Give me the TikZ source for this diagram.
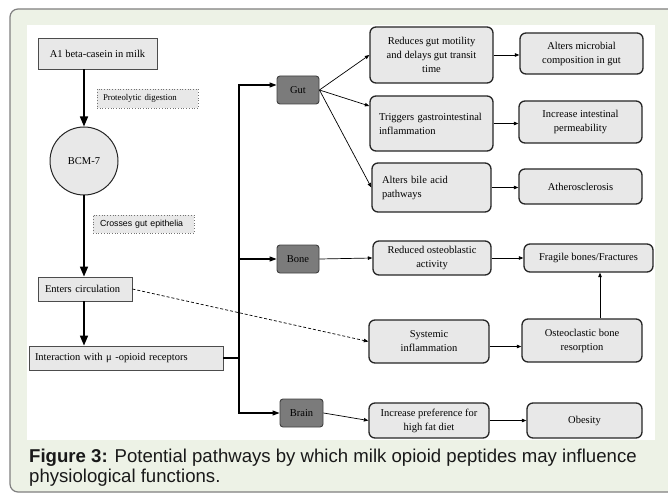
\documentclass[tikz,border=0pt]{standalone}
\usepackage{fontspec}
\setmainfont{Liberation Serif}
\setsansfont{Liberation Sans}
\usetikzlibrary{arrows.meta,positioning}
\definecolor{framebg}{HTML}{EDF2E6}
\definecolor{boxfill}{HTML}{E8E8E8}
\definecolor{hubfill}{HTML}{7B7B7B}

\begin{document}
\begin{tikzpicture}[x=1pt,y=-1pt,
    every node/.style={font=\fontsize{10.5}{14}\selectfont,inner sep=2pt},
    plainbox/.style={draw=black!70,fill=boxfill,line width=0.8pt,rectangle,align=left},
    notebox/.style={draw=black!55,fill=boxfill,dotted,line width=0.7pt,align=left,
                    font=\fontsize{8.8}{10}\selectfont},
    pepcircle/.style={draw=black!85,fill=boxfill,circle,line width=1pt,minimum size=68pt},
    hubbox/.style={draw=black!75,fill=hubfill,rounded corners=3pt,line width=0.9pt,
                   minimum width=42pt,minimum height=28pt},
    fxbox/.style={draw=black!85,fill=boxfill,rounded corners=6pt,line width=1.3pt,align=center},
    bigarrow/.style={line width=1.6pt,-{Triangle[length=10pt,width=8pt]}},
    trunk/.style={line width=1.1pt},
    trunkarrow/.style={trunk,-{Triangle[length=7pt,width=5pt]}},
    thinarrow/.style={line width=0.7pt,-{Triangle[length=4.5pt,width=3.5pt]}}
  ]
  \useasboundingbox (0,0) rectangle (668,494);
  \clip (0,0) rectangle (668,494);
  \fill[white] (0,0) rectangle (668,494);
  % frame and panel
  \draw[fill=framebg,draw=black!50,line width=1.2pt,rounded corners=8pt] (10,9) rectangle (700,492);
  \fill[white] (27,25) rectangle (655,440);

  % left column
  \node[plainbox,align=center,minimum width=119pt,minimum height=31pt] (milk) at (97.5,53.5) {A1 beta-casein in milk};
  \node[notebox,inner xsep=6pt,text width=89pt,minimum height=19pt] (digest) at (147.5,98.5) {Proteolytic digestion};
  \node[pepcircle] (bcm) at (84,161) {BCM-7};
  \node[notebox,font=\sffamily\fontsize{8.8}{10}\selectfont,inner xsep=7pt,text width=87pt,minimum height=18pt] (epith) at (143.5,224) {Crosses gut epithelia};
  \node[plainbox,inner xsep=7pt,text width=80pt,minimum height=24pt] (circ) at (85,289) {Enters circulation};
  \node[plainbox,inner xsep=6pt,text width=182pt,minimum height=24pt] (recep) at (126,358) {Interaction with μ -opioid receptors};

  % organs
  \node[hubbox] (gut) at (298,90) {Gut};
  \node[hubbox] (bone) at (298,259) {Bone};
  \node[hubbox,minimum width=43pt] (brain) at (301.5,413) {Brain};

  % effects
  \node[fxbox,minimum width=123pt,minimum height=56pt] (motil) at (431.5,55) {Reduces gut motility\\and delays gut transit\\time};
  \node[fxbox,minimum width=123pt,minimum height=41pt] (micro) at (581.5,53.5) {Alters microbial\\composition in gut};
  \node[fxbox,align=left,inner xsep=9pt,text width=105pt,minimum height=55pt] (gi) at (431.5,123.5) {Triggers gastrointestinal\\inflammation};
  \node[fxbox,minimum width=123pt,minimum height=42pt] (perm) at (580.5,122) {Increase intestinal\\permeability};
  \node[fxbox,align=left,inner xsep=10pt,text width=99pt,minimum height=49pt] (bile) at (431.5,187.5) {Alters bile acid\\pathways};
  \node[fxbox,minimum width=123pt,minimum height=35pt] (ather) at (580.5,186.5) {Atherosclerosis};
  \node[fxbox,minimum width=118pt,minimum height=34pt] (blast) at (432,258) {Reduced osteoblastic\\activity};
  \node[fxbox,minimum width=129pt,minimum height=28pt] (frag) at (588.5,258) {Fragile bones/Fractures};
  \node[fxbox,minimum width=120pt,minimum height=43pt] (sysinf) at (429,341.5) {Systemic\\inflammation};
  \node[fxbox,minimum width=120pt,minimum height=43pt] (clast) at (582,340.5) {Osteoclastic bone\\resorption};
  \node[fxbox,minimum width=120pt,minimum height=35pt] (pref) at (429,420.5) {Increase preference for\\high fat diet};
  \node[fxbox,minimum width=115pt,minimum height=35pt] (obes) at (584.5,420.5) {Obesity};

  % main chain
  \draw[bigarrow] (milk.south -| bcm.north) -- (bcm.north);
  \draw[bigarrow] (bcm.south) -- (bcm.south |- circ.north);
  \draw[bigarrow] (bcm |- circ.south) -- (bcm |- recep.north);

  % trunk to organs
  \coordinate (ttop) at (239,85);
  \coordinate (tbot) at (239,413);
  \draw[trunk] (recep.east) -- (recep.east -| ttop);
  \draw[trunkarrow] (ttop |- bone) -- (ttop) -- (ttop -| gut.west);
  \draw[trunkarrow] (ttop |- bone) -- (tbot) -- (brain.west);
  \draw[trunkarrow] (ttop |- bone) -- (bone.west);

  % organ effects
  \draw[thinarrow] (gut.east) -- (motil.west);
  \draw[thinarrow] (gut.east) -- ([yshift=17.5pt]gi.west);
  \draw[thinarrow] (gut.east) -- (bile.west);
  \draw[thinarrow] (bone.east) -- (blast.west);
  \draw[thinarrow] (brain.east) -- (pref.west);
  \draw[thinarrow,dash pattern=on 3pt off 2pt] (circ.east) -- (sysinf.west);

  % outcomes
  \draw[thinarrow] (motil.east) -- (motil.east -| micro.west);
  \draw[thinarrow] (gi.east) -- (gi.east -| perm.west);
  \draw[thinarrow] (bile.east) -- (bile.east -| ather.west);
  \draw[thinarrow] (blast.east) -- (blast.east -| frag.west);
  \draw[thinarrow] ([yshift=-5pt]sysinf.east) -- ([yshift=-5pt]sysinf.east -| clast.west);
  \draw[thinarrow] ([xshift=18pt]clast.north) -- ([xshift=18pt]clast.north |- frag.south);
  \draw[thinarrow] (pref.east) -- (pref.east -| obes.west);

  % caption
  \node[anchor=base west,inner sep=0pt,font=\sffamily\fontsize{18.6}{21}\selectfont,text=black!90] (cap1) at (29,462)
    {\textbf{Figure 3:} Potential pathways by which milk opioid peptides may influence};
  \node[anchor=base west,inner sep=0pt,font=\sffamily\fontsize{18.6}{21}\selectfont,text=black!90] (cap2) at (29,482)
    {physiological functions.};
\end{tikzpicture}
\end{document}
